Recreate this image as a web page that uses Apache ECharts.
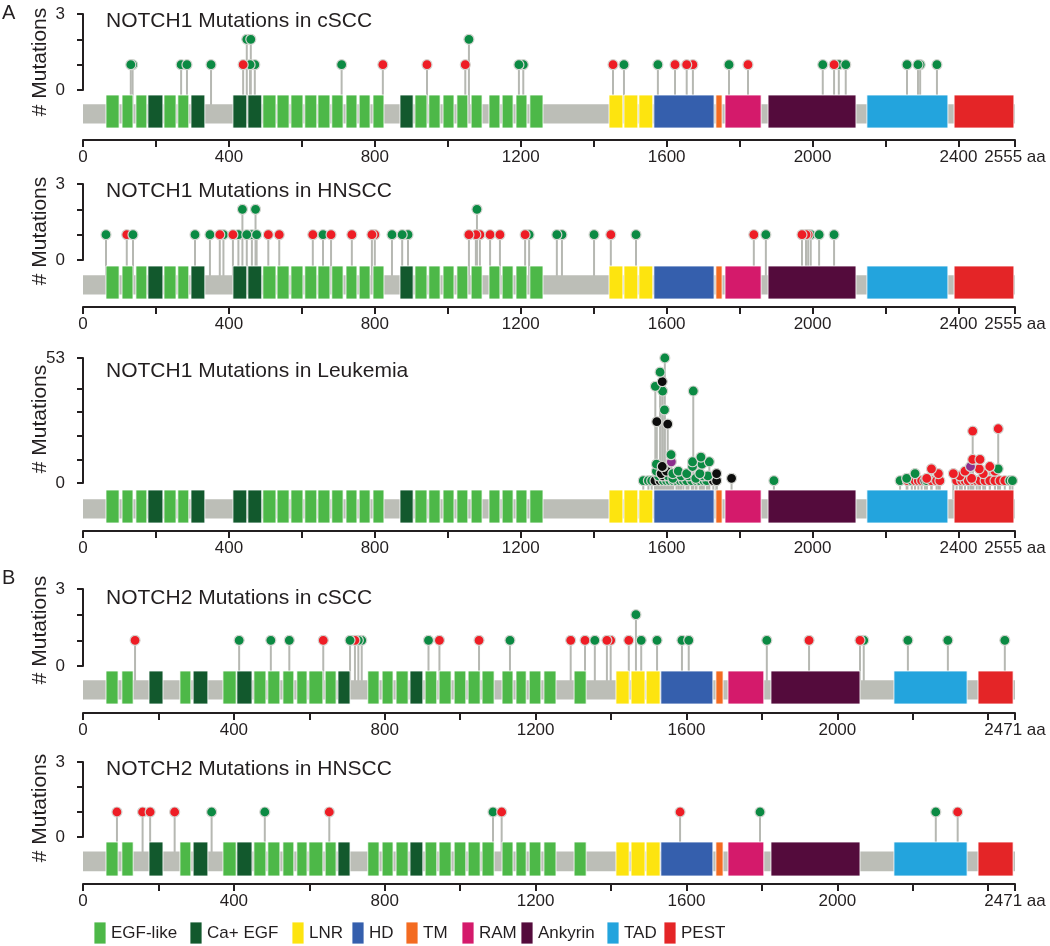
<!DOCTYPE html>
<html><head><meta charset="utf-8">
<script src="https://cdn.jsdelivr.net/npm/echarts@6/dist/echarts.min.js"></script>
<style>html,body{margin:0;padding:0;background:#fff}#c{width:1050px;height:946px}</style>
</head><body><div id="c"></div>
<script>
// ---------- DATA ----------
const domainNames = ['EGF-like','Ca+ EGF','LNR','HD','TM','RAM','Ankyrin','TAD','PEST'];
const domainColors = ['#4db848','#12592d','#fde40f','#355fad','#f36b21','#d41a6b','#540b3c','#23a4dd','#e42527'];
const dotColors = {g:'#0b8a43', r:'#ee1d25', k:'#0d0d0d', p:'#8c2f8e'};

const notch1Length = 2555;
const notch2Length = 2471;

// [start aa, end aa, domain type index]
const notch1Domains = [
  [63,99,0],[107,137,0],[145,175,0],[178,219,1],[222,255,0],[260,290,0],[296,334,1],
  [411,449,1],[452,490,1],[493,529,0],[532,565,0],[570,603,0],[608,641,0],[644,677,0],[682,713,0],
  [721,751,0],[757,787,0],[795,825,0],[869,905,1],[910,943,0],[948,979,0],[987,1017,0],[1025,1055,0],
  [1064,1094,0],[1113,1143,0],[1149,1179,0],[1187,1217,0],[1225,1261,0],
  [1442,1480,2],[1483,1521,2],[1524,1562,2],[1565,1730,3],[1735,1752,4],[1760,1859,5],
  [1878,2119,6],[2149,2371,7],[2388,2552,8]
];
const notch2Domains = [
  [61,93,0],[103,133,0],[175,212,1],[257,286,0],[292,331,1],[371,406,0],[408,448,1],[453,485,0],
  [490,522,0],[530,559,0],[567,594,0],[599,636,0],[642,671,0],[676,708,1],[755,785,0],[793,822,0],
  [830,862,0],[867,901,1],[907,938,0],[944,976,0],[984,1015,0],[1021,1053,0],[1058,1090,0],
  [1111,1140,0],[1148,1175,0],[1183,1214,0],[1222,1254,0],[1302,1334,0],
  [1413,1448,2],[1453,1490,2],[1493,1530,2],[1532,1670,3],[1678,1697,4],[1710,1805,5],
  [1824,2060,6],[2150,2344,7],[2373,2466,8]
];

// mutations: [position aa, count, colour key]
const n1cSCC = [
  [136,1,'g'],[131,1,'g'],[269,1,'g'],[285,1,'g'],[351,1,'g'],[471,1,'g'],[458,1,'g'],[439,1,'r'],
  [449,2,'g'],[460,2,'g'],[709,1,'g'],[822,1,'r'],[943,1,'r'],[1048,1,'r'],[1058,2,'g'],
  [1207,1,'g'],[1195,1,'g'],[1453,1,'r'],[1483,1,'g'],[1576,1,'g'],[1623,1,'r'],[1672,1,'r'],
  [1655,1,'r'],[1771,1,'g'],[1823,1,'r'],[2028,1,'g'],[2072,1,'g'],[2059,1,'r'],[2091,1,'g'],
  [2259,1,'g'],[2295,1,'g'],[2289,1,'g'],[2341,1,'g']
];
const n1HNSCC = [
  [63,1,'g'],[120,1,'r'],[137,1,'g'],[307,1,'g'],[348,1,'g'],[385,1,'g'],[375,1,'r'],[426,1,'g'],
  [411,1,'r'],[463,1,'g'],[449,1,'g'],[476,1,'g'],[437,2,'g'],[473,2,'g'],[508,1,'r'],[538,1,'r'],
  [630,1,'r'],[658,1,'g'],[680,1,'r'],[737,1,'r'],[800,1,'r'],[792,1,'r'],[847,1,'g'],[891,1,'g'],
  [875,1,'g'],[1088,1,'r'],[1077,1,'r'],[1058,1,'r'],[1080,2,'g'],[1116,1,'r'],[1143,1,'r'],
  [1223,1,'g'],[1212,1,'r'],[1313,1,'g'],[1299,1,'g'],[1401,1,'g'],[1447,1,'r'],[1516,1,'g'],
  [1839,1,'r'],[1872,1,'g'],[1995,1,'g'],[1988,1,'r'],[1982,1,'r'],[1971,1,'r'],[2018,1,'g'],[2059,1,'g']
];
const n1Leukemia = [
  [1536,1,'g'],[1550,1,'g'],[1559,1,'g'],[1568,1,'k'],[1582,1,'k'],[1591,1,'g'],[1600,1,'g'],
  [1609,1,'g'],[1618,1,'g'],[1627,1,'g'],[1637,1,'g'],[1646,1,'g'],[1655,1,'g'],[1669,1,'g'],
  [1682,1,'g'],[1691,1,'g'],[1702,1,'g'],[1710,1,'g'],[1728,1,'k'],[1737,1,'k'],[1894,1,'g'],
  [1578,3,'g'],[1590,3,'k'],[1604,3,'g'],[1617,2,'g'],[1640,3,'g'],[1660,3,'g'],[1680,2,'g'],
  [1700,3,'g'],[1713,3,'g'],[1778,2,'k'],
  [1572,5,'g'],[1585,4,'k'],[1600,5,'k'],[1617,4,'g'],[1632,5,'g'],[1655,4,'g'],[1691,4,'g'],[1737,4,'k'],
  [1572,8,'g'],[1590,7,'g'],[1588,7,'k'],[1671,7,'g'],[1697,8,'g'],[1613,9,'p'],[1671,9,'g'],
  [1717,9,'g'],[1694,11,'g'],[1612,12,'g'],
  [1603,25,'k'],[1573,26,'k'],[1594,31,'g'],[1589,39,'g'],[1673,39,'g'],[1569,41,'g'],
  [1588,43,'k'],[1582,47,'g'],[1595,53,'g'],
  [2240,1,'g'],[2260,1,'r'],[2272,1,'g'],[2281,1,'r'],[2290,1,'r'],[2299,1,'r'],[2308,1,'k'],
  [2313,1,'g'],[2326,1,'r'],[2340,1,'r'],[2349,1,'r'],[2395,1,'r'],[2409,1,'r'],[2418,1,'r'],
  [2427,1,'r'],[2441,1,'r'],[2450,1,'r'],[2459,1,'r'],[2473,1,'r'],[2486,1,'r'],[2500,1,'r'],
  [2514,1,'r'],[2527,1,'r'],[2541,1,'g'],[2548,1,'g'],
  [2258,2,'g'],[2313,2,'r'],[2281,4,'g'],[2345,4,'r'],[2326,6,'r'],[2436,2,'r'],[2404,3,'r'],
  [2386,4,'r'],[2468,4,'r'],[2418,5,'r'],[2500,5,'r'],[2457,6,'r'],[2509,6,'g'],[2486,7,'r'],
  [2433,7,'p'],[2439,10,'r'],[2459,10,'r'],[2439,22,'r'],[2509,23,'r']
];
const n2cSCC = [
  [138,1,'r'],[414,1,'g'],[498,1,'g'],[547,1,'g'],[637,1,'r'],[739,1,'g'],[730,1,'g'],[721,1,'r'],
  [708,1,'g'],[916,1,'g'],[945,1,'r'],[1050,1,'r'],[1132,1,'g'],[1293,1,'r'],[1331,1,'r'],
  [1357,1,'g'],[1399,1,'r'],[1389,1,'r'],[1447,1,'r'],[1466,2,'g'],[1480,1,'g'],[1522,1,'g'],
  [1588,1,'g'],[1606,1,'g'],[1813,1,'g'],[1925,1,'r'],[2070,1,'g'],[2060,1,'r'],[2187,1,'g'],
  [2293,1,'g'],[2444,1,'g']
];
const n2HNSCC = [
  [90,1,'r'],[158,1,'r'],[178,1,'r'],[243,1,'r'],[341,1,'g'],[482,1,'g'],[653,1,'r'],
  [1087,1,'g'],[1110,1,'r'],[1583,1,'r'],[1795,1,'g'],[2261,1,'g'],[2319,1,'r']
];

const panelTitles = ['NOTCH1 Mutations in cSCC','NOTCH1 Mutations in HNSCC','NOTCH1 Mutations in Leukemia',
                     'NOTCH2 Mutations in cSCC','NOTCH2 Mutations in HNSCC'];
const xTicks1 = [0,200,400,600,800,1000,1200,1400,1600,1800,2000,2200,2400,2555];
const xLabels1 = [0,400,800,1200,1600,2000,2400,2555];
const xTicks2 = [0,200,400,600,800,1000,1200,1400,1600,1800,2000,2200,2400,2471];
const xLabels2 = [0,400,800,1200,1600,2000,2471];
const yTicks3 = [0,1,2,3];
const yLabels3 = [0,3];
const yTicksLeuk = [0,10,20,30,40,53];
const yLabelsLeuk = [0,53];
const yAxisTitle = '# Mutations';
const sectionLetters = ['A','B'];

// ---------- LAYOUT ----------
const FONT = 'Liberation Sans, Arial, Helvetica, sans-serif';
const INK = '#231f20';
const layout = [
  {lolTop:14, lolBot:90, domTop:95, domBot:128, axisY:140, titleY:21, nameY:62},
  {lolTop:184, lolBot:260, domTop:266, domBot:299, axisY:307, titleY:191, nameY:231},
  {lolTop:358, lolBot:483, domTop:490, domBot:523, axisY:531, titleY:371, nameY:419},
  {lolTop:589, lolBot:666, domTop:671, domBot:704, axisY:713, titleY:598, nameY:630},
  {lolTop:762, lolBot:837, domTop:842, domBot:876, axisY:884, titleY:769, nameY:808}
];
const panels = [
  {muts:n1cSCC, doms:notch1Domains, len:notch1Length, xt:xTicks1, xl:xLabels1, ymax:3, yt:yTicks3, yl:yLabels3},
  {muts:n1HNSCC, doms:notch1Domains, len:notch1Length, xt:xTicks1, xl:xLabels1, ymax:3, yt:yTicks3, yl:yLabels3},
  {muts:n1Leukemia, doms:notch1Domains, len:notch1Length, xt:xTicks1, xl:xLabels1, ymax:53, yt:yTicksLeuk, yl:yLabelsLeuk},
  {muts:n2cSCC, doms:notch2Domains, len:notch2Length, xt:xTicks2, xl:xLabels2, ymax:3, yt:yTicks3, yl:yLabels3},
  {muts:n2HNSCC, doms:notch2Domains, len:notch2Length, xt:xTicks2, xl:xLabels2, ymax:3, yt:yTicks3, yl:yLabels3}
];
const legendX = [94,190,292,352,406,462,521,607,664];

const grid = [], xAxis = [], yAxis = [], series = [], graphic = [];
panels.forEach((p, i) => {
  const L = layout[i];
  const gi = 2*i, di = 2*i+1;
  grid.push({left:83, width:932, top:L.lolTop, height:L.lolBot-L.lolTop});
  grid.push({left:83, width:932, top:L.domTop, height:L.domBot-L.domTop});
  xAxis.push({type:'value', gridIndex:gi, min:0, max:p.len, show:false});
  xAxis.push({type:'value', gridIndex:di, min:0, max:p.len, position:'bottom',
    offset: L.axisY - L.domBot,
    axisLine:{show:true, onZero:false, lineStyle:{color:INK, width:2}},
    axisTick:{show:true, customValues:p.xt, length:7, lineStyle:{color:INK, width:2}},
    axisLabel:{show:true, customValues:p.xl, fontSize:17, fontFamily:FONT, color:INK, margin:9,
      formatter: v => (v === p.len ? v + ' aa' : String(v))},
    splitLine:{show:false}});
  yAxis.push({type:'value', gridIndex:gi, min:0, max:p.ymax, offset:8,
    axisLine:{show:true, lineStyle:{color:INK, width:2}},
    axisTick:{show:true, customValues:p.yt, length:6, lineStyle:{color:INK, width:2}},
    axisLabel:{show:true, customValues:p.yl, fontSize:17, fontFamily:FONT, color:INK, margin:10},
    splitLine:{show:false}});
  yAxis.push({type:'value', gridIndex:di, min:0, max:1, show:false});

  // stems
  series.push({type:'custom', xAxisIndex:gi, yAxisIndex:gi, z:1, silent:true, clip:false,
    data: p.muts.map(m => [m[0], m[1]]),
    renderItem: (params, api) => {
      const a = api.coord([api.value(0), api.value(1)]);
      const b = api.coord([api.value(0), 0]);
      return {type:'line', shape:{x1:a[0], y1:a[1], x2:b[0], y2:b[1]+16},
        style:{stroke:'#b6b8b2', lineWidth:2}};
    }});
  // protein backbone
  series.push({type:'custom', xAxisIndex:di, yAxisIndex:di, z:2, silent:true, clip:false,
    data:[[0, p.len]],
    renderItem: (params, api) => {
      const a = api.coord([api.value(0), 0.72]);
      const b = api.coord([api.value(1), 0.14]);
      return {type:'rect', shape:{x:a[0], y:a[1], width:b[0]-a[0], height:b[1]-a[1]},
        style:{fill:'#bcbeb7'}};
    }});
  // domains
  series.push({type:'custom', xAxisIndex:di, yAxisIndex:di, z:3, silent:true, clip:false,
    data: p.doms,
    renderItem: (params, api) => {
      const a = api.coord([api.value(0), 1]);
      const b = api.coord([api.value(1), 0]);
      return {type:'rect', shape:{x:a[0], y:a[1], width:b[0]-a[0], height:b[1]-a[1]},
        style:{fill:domainColors[api.value(2)], stroke:'#ffffff', lineWidth:0.8}};
    }});
  // dots
  series.push({type:'scatter', xAxisIndex:gi, yAxisIndex:gi, z:5, silent:true, clip:false,
    symbol:'circle', symbolSize:10,
    itemStyle:{borderColor:'#d4d5d0', borderWidth:1.2, opacity:1},
    data: p.muts.map(m => ({value:[m[0], m[1]], itemStyle:{color:dotColors[m[2]]}}))});

  graphic.push({type:'text', x:106, y:L.titleY, silent:true,
    style:{text:panelTitles[i], fontSize:21, fontFamily:FONT, fill:INK, verticalAlign:'middle', textVerticalAlign:'middle'}});
  graphic.push({type:'text', x:40, y:L.nameY, rotation:Math.PI/2, silent:true,
    style:{text:yAxisTitle, fontSize:21, fontFamily:FONT, fill:INK, align:'center', verticalAlign:'middle',
      textAlign:'center', textVerticalAlign:'middle'}});
});

graphic.push({type:'text', x:2, y:13, silent:true,
  style:{text:sectionLetters[0], fontSize:20, fontFamily:FONT, fill:INK, verticalAlign:'middle', textVerticalAlign:'middle'}});
graphic.push({type:'text', x:2, y:578, silent:true,
  style:{text:sectionLetters[1], fontSize:20, fontFamily:FONT, fill:INK, verticalAlign:'middle', textVerticalAlign:'middle'}});

domainNames.forEach((n, i) => {
  graphic.push({type:'rect', x:legendX[i], y:922, silent:true, shape:{x:0, y:0, width:12, height:22},
    style:{fill:domainColors[i], stroke:'#ffffff', lineWidth:0.8}});
  graphic.push({type:'text', x:legendX[i]+17, y:933, silent:true,
    style:{text:n, fontSize:17, fontFamily:FONT, fill:INK, verticalAlign:'middle', textVerticalAlign:'middle'}});
});

const chart = echarts.init(document.getElementById('c'), null, {renderer:'canvas'});
chart.setOption({
  animation:false,
  backgroundColor:'#ffffff',
  textStyle:{fontFamily:FONT},
  grid, xAxis, yAxis, series, graphic
});
</script>
</body></html>
